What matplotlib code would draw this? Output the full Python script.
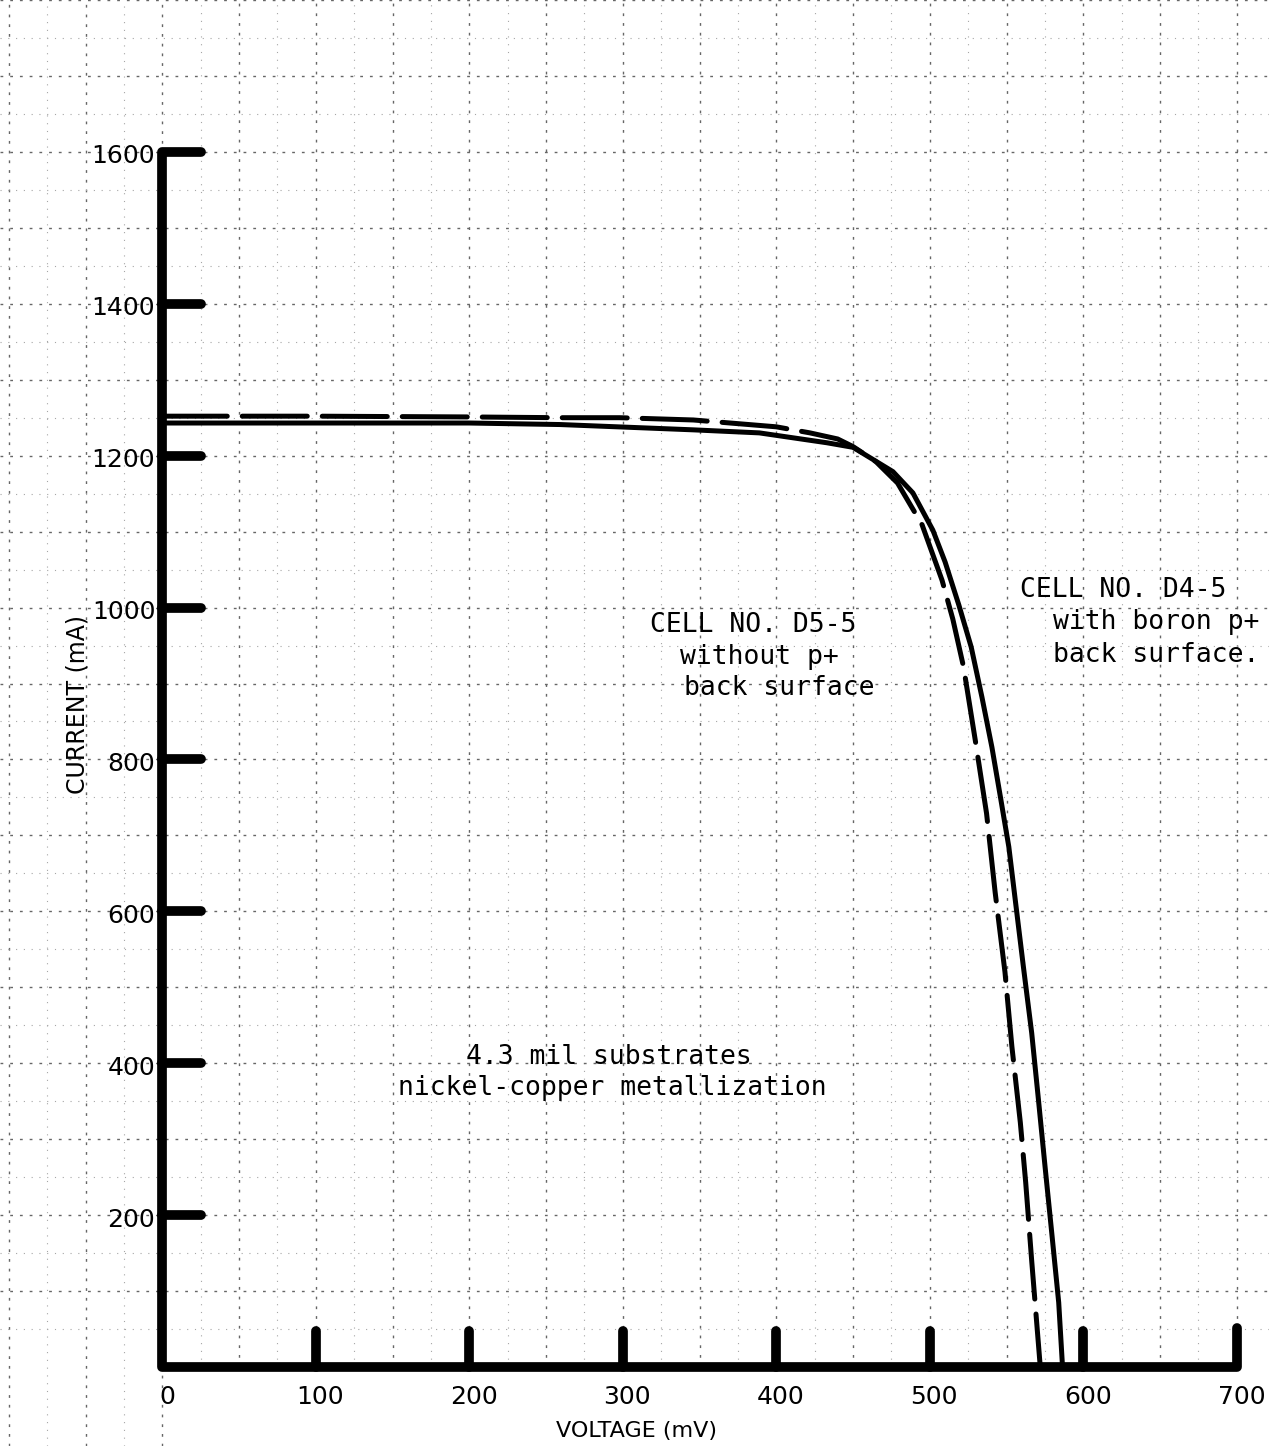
import numpy as np
import matplotlib
matplotlib.use("Agg")
import matplotlib.pyplot as plt

# I-V curves (mV, mA)
volt_boron = [0, 100, 200, 259, 346, 389, 433, 450, 476, 489, 502, 510, 519, 527,
              534, 540.5, 546, 551.5, 555.7, 561, 566.4, 570.8, 575.1, 579.5, 584, 586.5]
cur_boron = [1243, 1243, 1243, 1241, 1234, 1230, 1217, 1211, 1179, 1151, 1102, 1060, 1003, 948,
             882, 816, 751, 685, 615, 527, 440, 352, 264, 176, 85, 0]

volt_plain = [0, 100, 200, 259, 298, 346, 370, 400, 422, 440, 450, 465, 479, 495, 508,
              515, 522, 529.6, 537, 542.6, 549, 553.5, 559, 562.5, 566.4, 572]
cur_plain = [1252, 1252, 1251, 1250, 1250, 1247, 1243, 1238, 1230, 1222, 1212, 1192, 1164, 1109, 1036,
             985, 922, 826, 729, 625, 520, 422, 322, 243, 140, 0]

x_ticks = [0, 100, 200, 300, 400, 500, 600, 700]
y_ticks = [200, 400, 600, 800, 1000, 1200, 1400, 1600]

# Figure covers the whole sheet, axes drawn by hand like the plotter did
fig = plt.figure(figsize=(12.69, 14.46), dpi=100)
ax = fig.add_axes([0, 0, 1, 1])
ax.set_xlim(-105.7, 721)
ax.set_ylim(-104, 1800)
ax.axis("off")

# Graph paper grid (dotted, faint)
for v in np.arange(-100, 725, 25):
    major = v % 50 == 0
    y0 = 0 if v > 0 else -104
    ax.plot([v, v], [y0, 1800], color="0.4" if major else "0.65",
            lw=1.0 if major else 0.8, dashes=(2, 5) if major else (1, 6), zorder=1)
for c in np.arange(50, 1801, 50):
    major = c % 100 == 0
    ax.plot([-105.7, 721], [c, c], color="0.4" if major else "0.65",
            lw=1.0 if major else 0.8, dashes=(2, 5) if major else (1, 6), zorder=1)

# Heavy axis frame
ax.plot([700, 700, 0, 0, 25], [52, 0, 0, 1600, 1600], color="black", lw=7,
        solid_joinstyle="round", solid_capstyle="round", zorder=3)
for v in x_ticks[1:-1]:
    ax.plot([v, v], [0, 48], color="black", lw=7, solid_capstyle="round", zorder=3)
for c in y_ticks[:-1]:
    ax.plot([0, 25], [c, c], color="black", lw=7, solid_capstyle="round", zorder=3)

# Tick labels
for v in x_ticks:
    ax.text(v + 3, -40, str(v), ha="center", va="center", fontsize=18,
            family="DejaVu Sans", zorder=4)
for c in y_ticks:
    ax.text(-4.5, c - 6, str(c), ha="right", va="center", fontsize=18,
            family="DejaVu Sans", zorder=4)

ax.text(309, -84, "VOLTAGE (mV)", ha="center", va="center", fontsize=16,
        family="DejaVu Sans", zorder=4)
ax.text(-55, 873, "CURRENT (mA)", ha="center", va="center", rotation=90,
        fontsize=17, family="DejaVu Sans", zorder=4)

# Curves
ax.plot(volt_boron, cur_boron, color="black", lw=3.6, solid_joinstyle="round", zorder=5)
ax.plot(volt_plain, cur_plain, color="black", lw=3.6, dashes=(13, 3),
        dash_capstyle="round", dash_joinstyle="round", zorder=5)

# Annotations
mono = dict(family="DejaVu Sans Mono", fontsize=19, va="center", zorder=6)
ax.text(318, 977, "CELL NO. D5-5", ha="left", **mono)
ax.text(337.5, 935, "without p+", ha="left", **mono)
ax.text(340, 894, "back surface", ha="left", **mono)
ax.text(559, 1023, "CELL NO. D4-5", ha="left", **mono)
ax.text(580, 981, "with boron p+", ha="left", **mono)
ax.text(580, 938, "back surface.", ha="left", **mono)
ax.text(291, 408, "4.3 mil substrates", ha="center", **mono)
ax.text(293, 367, "nickel-copper metallization", ha="center", **mono)

fig.savefig("out.png", dpi=100, facecolor="white")
